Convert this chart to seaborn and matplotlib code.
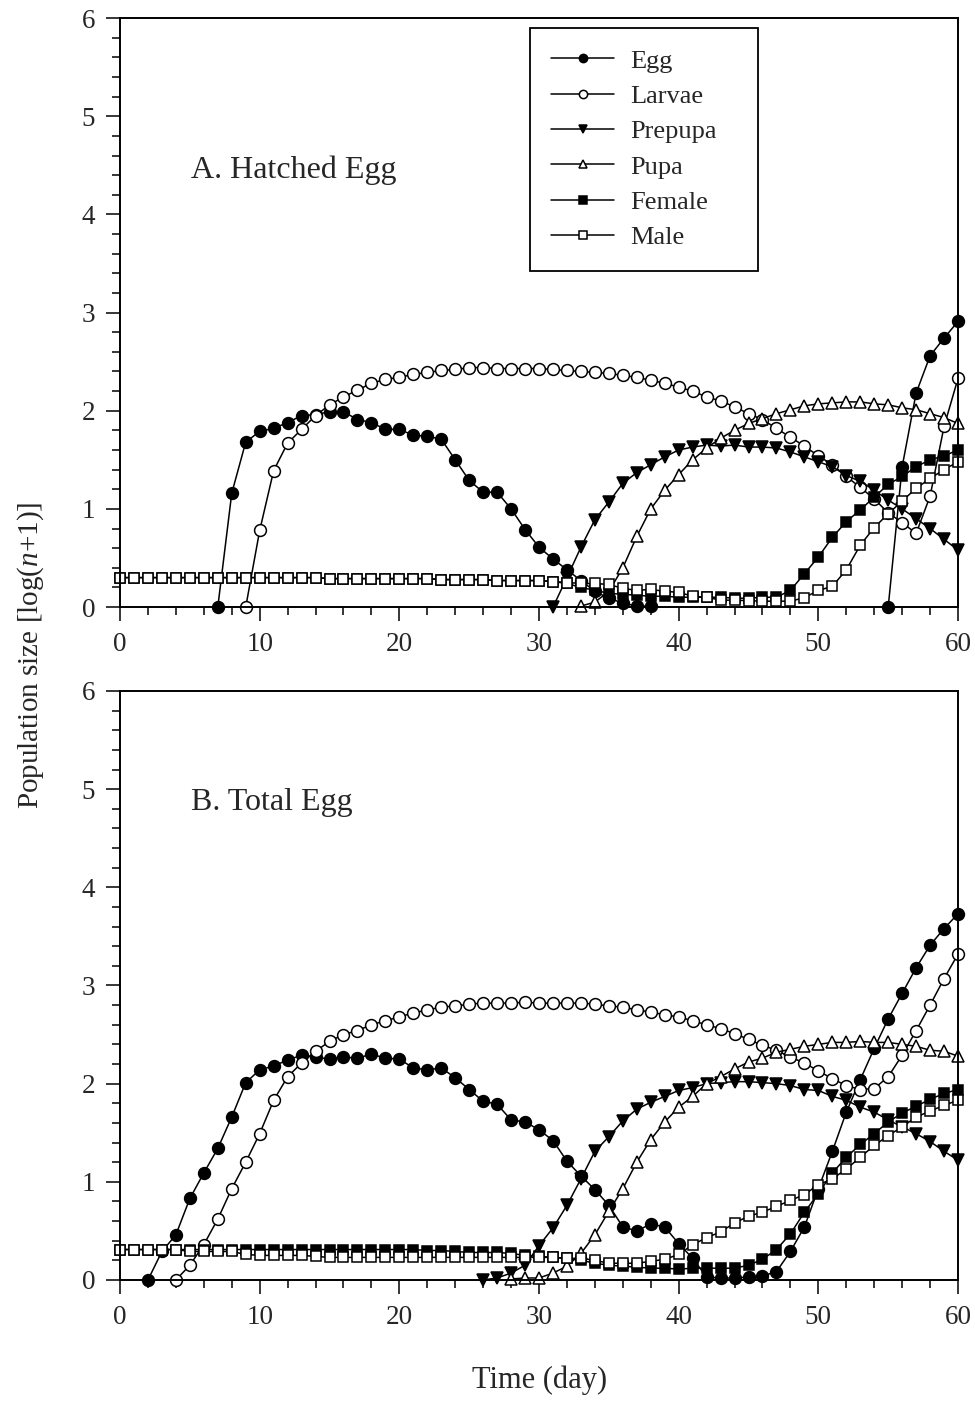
import numpy as np
import seaborn as sns
import matplotlib.pyplot as plt
from matplotlib.ticker import MultipleLocator

# days 0..60, NaN = stage not present (not plotted)
days = np.arange(0, 61)
nan = np.nan

# ---- A. Hatched egg ----
egg_a = [nan]*7 + [0.0, 1.16, 1.68, 1.79, 1.82, 1.88, 1.95, 1.96, 1.99, 1.99, 1.91, 1.88, 1.81, 1.81,
                   1.75, 1.74, 1.71, 1.50, 1.29, 1.17, 1.17, 1.00, 0.79, 0.61, 0.49, 0.38, 0.27, 0.16,
                   0.09, 0.04, 0.01, 0.01] + [nan]*16 + [0.0, 1.43, 2.18, 2.56, 2.74, 2.91]
larvae_a = [nan]*9 + [0.0, 0.78, 1.39, 1.67, 1.81, 1.95, 2.06, 2.14, 2.21, 2.28, 2.32, 2.34, 2.37,
                      2.39, 2.41, 2.42, 2.44, 2.44, 2.43, 2.43, 2.43, 2.43, 2.42, 2.41, 2.40, 2.39,
                      2.38, 2.36, 2.34, 2.31, 2.28, 2.24, 2.20, 2.14, 2.10, 2.04, 1.97, 1.91, 1.82,
                      1.73, 1.64, 1.54, 1.45, 1.33, 1.22, 1.10, 0.96, 0.86, 0.75, 1.13, 1.84, 2.33]
prepupa_a = [nan]*31 + [0.0, 0.30, 0.61, 0.89, 1.07, 1.26, 1.37, 1.45, 1.53, 1.60, 1.63, 1.65, 1.64,
                        1.65, 1.63, 1.63, 1.62, 1.58, 1.53, 1.48, 1.43, 1.34, 1.28, 1.19, 1.09, 1.00,
                        0.90, 0.80, 0.69, 0.58]
pupa_a = [nan]*33 + [0.01, 0.05, 0.16, 0.40, 0.72, 1.00, 1.19, 1.35, 1.50, 1.62, 1.72, 1.80, 1.87,
                     1.92, 1.97, 2.01, 2.05, 2.07, 2.08, 2.09, 2.09, 2.07, 2.06, 2.03, 2.01, 1.97,
                     1.93, 1.87]
female_a = [0.30]*15 + [0.29]*8 + [0.28]*4 + [0.27]*4 + [0.26, 0.24, 0.20, 0.17, 0.14, 0.13, 0.12,
            0.11, 0.11, 0.10, 0.10, 0.10, 0.10, 0.09, 0.09, 0.10, 0.10, 0.17, 0.34, 0.51, 0.71, 0.87,
            0.99, 1.12, 1.25, 1.33, 1.43, 1.50, 1.54, 1.60]
male_a = [0.30]*15 + [0.29]*8 + [0.28]*4 + [0.27]*4 + [0.26, 0.25, 0.24, 0.24, 0.23, 0.19, 0.17,
          0.18, 0.16, 0.15, 0.11, 0.10, 0.07, 0.07, 0.065, 0.06, 0.06, 0.06, 0.095, 0.17, 0.21, 0.38,
          0.63, 0.81, 0.95, 1.08, 1.21, 1.31, 1.40, 1.48]

# ---- B. Total egg ----
egg_b = [nan]*2 + [0.0, 0.29, 0.46, 0.83, 1.09, 1.34, 1.66, 2.01, 2.14, 2.18, 2.24, 2.29, 2.27, 2.25,
                   2.27, 2.26, 2.30, 2.26, 2.25, 2.16, 2.14, 2.16, 2.06, 1.94, 1.82, 1.79, 1.63, 1.61,
                   1.53, 1.42, 1.21, 1.06, 0.92, 0.76, 0.54, 0.50, 0.57, 0.54, 0.37, 0.22, 0.03, 0.02,
                   0.02, 0.03, 0.04, 0.085, 0.29, 0.54, 0.93, 1.31, 1.71, 2.04, 2.36, 2.66, 2.92, 3.18,
                   3.41, 3.58, 3.73]
larvae_b = [nan]*4 + [0.0, 0.15, 0.36, 0.62, 0.93, 1.20, 1.49, 1.83, 2.07, 2.21, 2.33, 2.43, 2.50,
                      2.54, 2.60, 2.64, 2.68, 2.72, 2.75, 2.78, 2.79, 2.81, 2.82, 2.82, 2.82, 2.83,
                      2.82, 2.82, 2.82, 2.82, 2.81, 2.79, 2.78, 2.75, 2.73, 2.70, 2.68, 2.64, 2.60,
                      2.56, 2.51, 2.45, 2.39, 2.34, 2.27, 2.21, 2.13, 2.05, 1.98, 1.94, 1.95, 2.07,
                      2.29, 2.54, 2.80, 3.07, 3.32]
prepupa_b = [nan]*26 + [0.0, 0.02, 0.07, 0.15, 0.35, 0.53, 0.76, 1.03, 1.31, 1.46, 1.62, 1.74, 1.81,
                        1.87, 1.93, 1.96, 2.00, 2.01, 2.02, 2.02, 2.01, 2.00, 1.98, 1.94, 1.93, 1.87,
                        1.83, 1.76, 1.71, 1.63, 1.56, 1.49, 1.41, 1.31, 1.22]
pupa_b = [nan]*28 + [0.01, 0.02, 0.02, 0.07, 0.14, 0.27, 0.46, 0.70, 0.93, 1.20, 1.43, 1.61, 1.76,
                     1.87, 2.00, 2.07, 2.15, 2.22, 2.26, 2.32, 2.35, 2.38, 2.40, 2.42, 2.42, 2.43,
                     2.42, 2.42, 2.40, 2.38, 2.34, 2.33, 2.28]
female_b = [0.31]*22 + [0.30, 0.30, 0.29, 0.28, 0.28, 0.28, 0.27, 0.25, 0.24, 0.23, 0.22, 0.20, 0.17,
            0.15, 0.14, 0.13, 0.12, 0.12, 0.11, 0.12, 0.12, 0.12, 0.12, 0.15, 0.21, 0.31, 0.47, 0.69,
            0.88, 1.09, 1.25, 1.38, 1.49, 1.61, 1.70, 1.77, 1.84, 1.90, 1.94]
male_b = [0.31]*5 + [0.29]*4 + [0.26] + [0.25]*4 + [0.24] + [0.23]*17 + [0.22, 0.22, 0.20, 0.17,
          0.17, 0.17, 0.19, 0.21, 0.26, 0.36, 0.43, 0.49, 0.58, 0.65, 0.69, 0.75, 0.81, 0.87, 0.97,
          1.03, 1.13, 1.25, 1.37, 1.47, 1.56, 1.66, 1.72, 1.78, 1.83]

stages = ["Egg", "Larvae", "Prepupa", "Pupa", "Female", "Male"]
markers = ["o", "o", "v", "^", "s", "s"]
faces = ["black", "white", "black", "white", "black", "white"]
sizes = [8.5, 8.5, 9, 9, 7.5, 7.5]

sns.set_style("ticks")
plt.rcParams["font.family"] = ["Liberation Serif", "DejaVu Serif"]
plt.rcParams["mathtext.fontset"] = "custom"
plt.rcParams["mathtext.rm"] = "Liberation Serif"
plt.rcParams["mathtext.it"] = "Liberation Serif:italic"


def draw_stage(ax, y, marker, face, ms, label):
    y = np.asarray(y, dtype=float)
    ok = ~np.isnan(y)
    # split into contiguous runs so gaps stay gaps
    runs = np.split(np.arange(len(y)), np.where(np.diff(ok.astype(int)) != 0)[0] + 1)
    first = True
    for r in runs:
        if not ok[r[0]]:
            continue
        sns.lineplot(x=days[r], y=y[r], ax=ax, color="black", linewidth=1.1,
                     marker=marker, markersize=ms, markerfacecolor=face,
                     markeredgecolor="black", markeredgewidth=1.1, clip_on=False,
                     label=label if first else "_nolegend_")
        first = False


fig = plt.figure(figsize=(9.75, 14.01), dpi=100)
ax_a = fig.add_axes([0.1231, 0.5667, 0.8595, 0.4204])
ax_b = fig.add_axes([0.1231, 0.0864, 0.8595, 0.4204])

panels = [(ax_a, [egg_a, larvae_a, prepupa_a, pupa_a, female_a, male_a], "A. Hatched Egg", 4.45),
          (ax_b, [egg_b, larvae_b, prepupa_b, pupa_b, female_b, male_b], "B. Total Egg", 4.86)]

for ax, series, title, ty in panels:
    for y, lab, m, f, s in zip(series, stages, markers, faces, sizes):
        draw_stage(ax, y, m, f, s, lab)
    ax.set_xlim(0, 60)
    ax.set_ylim(0, 6)
    ax.xaxis.set_major_locator(MultipleLocator(10))
    ax.xaxis.set_minor_locator(MultipleLocator(2))
    ax.yaxis.set_major_locator(MultipleLocator(1))
    ax.yaxis.set_minor_locator(MultipleLocator(0.2))
    ax.tick_params(which="major", direction="out", length=10, width=1.3, labelsize=19.5, pad=8)
    ax.tick_params(which="minor", direction="out", length=5.5, width=1.3)
    for sp in ax.spines.values():
        sp.set_linewidth(1.4)
        sp.set_color("black")
    ax.set_xlabel("")
    ax.set_ylabel("")
    ax.text(5.1, ty, title, fontsize=23, va="center", ha="left")
    if ax is ax_a:
        ax.legend(loc="upper left", bbox_to_anchor=(0.489, 0.572, 0.272, 0.411), mode="expand",
                  fontsize=19, frameon=True, fancybox=False, edgecolor="black", framealpha=1,
                  markerscale=0.7, handlelength=2.4, handletextpad=0.6, labelspacing=0.45,
                  borderpad=0.8, borderaxespad=0)
        ax.get_legend().get_frame().set_linewidth(1.3)
    else:
        if ax.get_legend() is not None:
            ax.get_legend().remove()

fig.text(0.031, 0.532, r"Population size [log($n$+1)]", rotation=90, fontsize=21,
         ha="center", va="center")
fig.text(0.553, 0.015, "Time (day)", fontsize=22, ha="center", va="center")

fig.savefig("out.png", dpi=100)
